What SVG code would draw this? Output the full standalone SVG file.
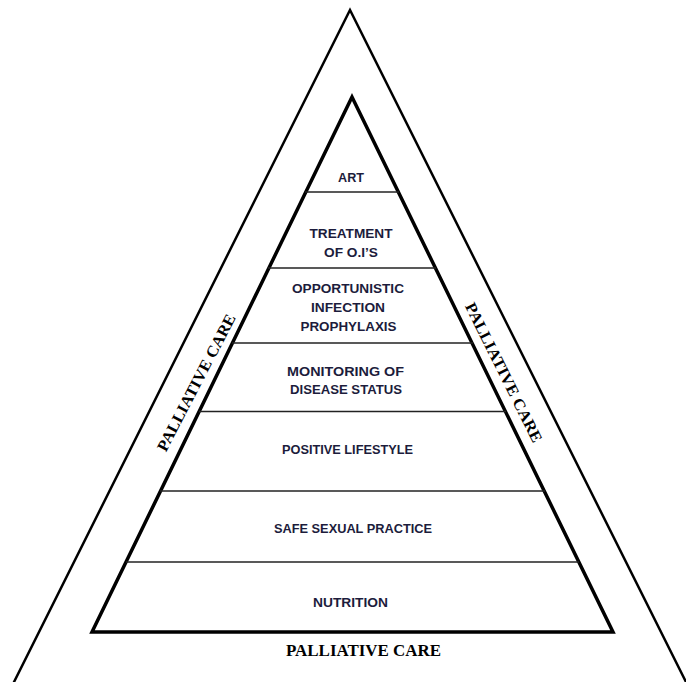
<svg xmlns="http://www.w3.org/2000/svg" width="686" height="682" viewBox="0 0 686 682">
  <style>
    .outer { fill: none; stroke: #000; stroke-width: 2.5; stroke-linejoin: miter; }
    .inner { fill: none; stroke: #000; stroke-width: 3.5; stroke-linejoin: miter; }
    .tier { stroke: #222; stroke-width: 1.6; }
    .lbl { font-family: "Liberation Sans", Arial, sans-serif; font-weight: bold; font-size: 13.5px; fill: #1c1c3c; text-anchor: middle; }
    .pc { font-family: "Liberation Serif", "Times New Roman", serif; font-weight: bold; font-size: 16px; fill: #000; text-anchor: middle; }
  </style>
  <rect width="686" height="682" fill="#fff"/>

  <!-- outer palliative-care triangle (base runs off the page) -->
  <g id="outer-triangle">
    <polyline class="outer" points="10,690 350,10 690,690"/>
  </g>

  <!-- inner pyramid -->
  <g id="pyramid">
    <polygon class="inner" points="352,97 613,632 92,632"/>
  </g>

  <!-- tier dividers -->
  <g id="dividers">
    <line class="tier" x1="305" y1="192" x2="399" y2="192"/>
    <line class="tier" x1="268" y1="268" x2="436" y2="268"/>
    <line class="tier" x1="232" y1="343" x2="473" y2="343"/>
    <line class="tier" x1="199" y1="411.5" x2="506" y2="411.5"/>
    <line class="tier" x1="160" y1="491" x2="545" y2="491"/>
    <line class="tier" x1="126" y1="562" x2="579" y2="562"/>
  </g>

  <g id="tier-art">
    <text class="lbl" x="351" y="182" textLength="26" lengthAdjust="spacingAndGlyphs">ART</text>
  </g>
  <g id="tier-treatment">
    <text class="lbl" x="351" y="238" textLength="83" lengthAdjust="spacingAndGlyphs">TREATMENT</text>
    <text class="lbl" x="351" y="257" textLength="54" lengthAdjust="spacingAndGlyphs">OF O.I’S</text>
  </g>
  <g id="tier-prophylaxis">
    <text class="lbl" x="348" y="293" textLength="112" lengthAdjust="spacingAndGlyphs">OPPORTUNISTIC</text>
    <text class="lbl" x="348" y="312" textLength="74" lengthAdjust="spacingAndGlyphs">INFECTION</text>
    <text class="lbl" x="348.5" y="331" textLength="96" lengthAdjust="spacingAndGlyphs">PROPHYLAXIS</text>
  </g>
  <g id="tier-monitoring">
    <text class="lbl" x="345.5" y="376" textLength="117" lengthAdjust="spacingAndGlyphs">MONITORING OF</text>
    <text class="lbl" x="346" y="394" textLength="112" lengthAdjust="spacingAndGlyphs">DISEASE STATUS</text>
  </g>
  <g id="tier-lifestyle">
    <text class="lbl" x="347.5" y="454" textLength="131" lengthAdjust="spacingAndGlyphs">POSITIVE LIFESTYLE</text>
  </g>
  <g id="tier-sexual">
    <text class="lbl" x="353" y="533" textLength="158" lengthAdjust="spacingAndGlyphs">SAFE SEXUAL PRACTICE</text>
  </g>
  <g id="tier-nutrition">
    <text class="lbl" x="350.5" y="607" textLength="75" lengthAdjust="spacingAndGlyphs">NUTRITION</text>
  </g>

  <!-- palliative care labels in the outer band -->
  <g id="palliative-left">
    <text class="pc" transform="translate(201,385) rotate(-62.5)" textLength="152" lengthAdjust="spacingAndGlyphs">PALLIATIVE CARE</text>
  </g>
  <g id="palliative-right">
    <text class="pc" transform="translate(499,375) rotate(63.5)" textLength="154" lengthAdjust="spacingAndGlyphs">PALLIATIVE CARE</text>
  </g>
  <g id="palliative-bottom">
    <text class="pc" x="363.5" y="656" textLength="155" lengthAdjust="spacingAndGlyphs">PALLIATIVE CARE</text>
  </g>
</svg>
